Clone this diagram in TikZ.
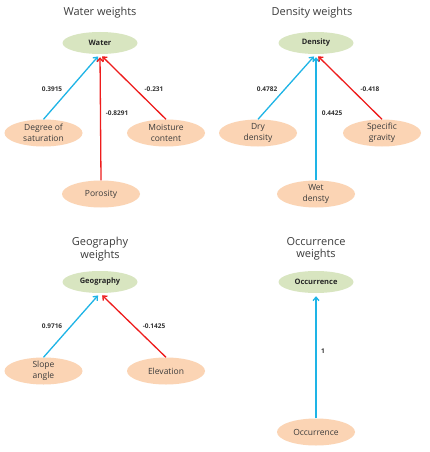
\documentclass[tikz,border=0pt]{standalone}
\usepackage{fontspec}
\setmainfont{Open Sans}
\usetikzlibrary{arrows.meta}
\definecolor{topfill}{HTML}{D8E5C0}
\definecolor{botfill}{HTML}{FBD4B4}
\definecolor{posblue}{HTML}{1EB4E6}
\definecolor{negred}{HTML}{EE1C1C}
\definecolor{txtgray}{HTML}{3C3C3C}
\tikzset{
  titlelbl/.style={font=\fontsize{11}{12.5}\selectfont, text=txtgray, align=center},
  topnode/.style={ellipse, fill=topfill, minimum width=75pt, minimum height=22pt, inner sep=0pt,
    font=\fontsize{7.5}{9}\selectfont\bfseries, text=black!85},
  botnode/.style={ellipse, fill=botfill, minimum width=78pt, minimum height=27pt, inner sep=0pt,
    font=\fontsize{8.5}{10.5}\selectfont, text=txtgray, align=center},
  weightlbl/.style={font=\fontsize{6.5}{8}\selectfont\bfseries, text=black!80, inner sep=0pt},
  posarrow/.style={draw=posblue, line width=1.3pt, -{Straight Barb[length=3.5pt,width=6pt]}, shorten >=3pt},
  negarrow/.style={draw=negred, line width=1.3pt, -{Straight Barb[length=3.5pt,width=6pt]}, shorten >=3pt},
}
\usetikzlibrary{shapes.geometric}
\begin{document}
\begin{tikzpicture}[x=1pt,y=-1pt]
\useasboundingbox[fill=white] (0,0) rectangle (429,452);
% Water
\node[titlelbl] (t1) at (100,13) {Water weights};
\node[topnode] (water) at (100,43) {Water};
\node[botnode] (deg) at (43.5,133) {Degree of\\saturation};
\node[botnode] (moist) at (166,133) {Moisture\\content};
\node[botnode] (poro) at (101,194) {Porosity};
\draw[posarrow] (deg.north) -- (water.south);
\draw[negarrow] (poro.north) -- (water.south);
\draw[negarrow] (moist.north) -- (water.south);
\node[weightlbl] (w1) at (52,89) {0.3915};
\node[weightlbl] (w2) at (117,113) {-0.8291};
\node[weightlbl] (w3) at (154,89) {-0.231};
% Density
\node[titlelbl] (t2) at (312,13) {Density weights};
\node[topnode] (dens) at (316,43) {Density};
\node[botnode] (dry) at (258,133) {Dry\\density};
\node[botnode] (spec) at (382,133) {Specific\\gravity};
\node[botnode] (wet) at (316,194) {Wet\\densty};
\draw[posarrow] (dry.north) -- (dens.south);
\draw[posarrow] (wet.north) -- (dens.south);
\draw[negarrow] (spec.north) -- (dens.south);
\node[weightlbl] (d1) at (267,89) {0.4782};
\node[weightlbl] (d2) at (332,113) {0.4425};
\node[weightlbl] (d3) at (370,89) {-0.418};
% Geography
\node[titlelbl] (t3) at (100,249) {Geography\\weights};
\node[topnode] (geo) at (100,282) {Geography};
\node[botnode] (slope) at (43.5,371) {Slope\\angle};
\node[botnode] (elev) at (166,371) {Elevation};
\draw[posarrow] (slope.north) -- (geo.south);
\draw[negarrow] (elev.north) -- (geo.south);
\node[weightlbl] (g1) at (52,326) {0.9716};
\node[weightlbl] (g2) at (154,326) {-0.1425};
% Occurrence
\node[titlelbl] (t4) at (316,249) {Occurrence\\weights};
\node[topnode] (occ) at (316,282) {Occurrence};
\node[botnode] (occb) at (316,432) {Occurrence};
\draw[posarrow] (occb.north) -- (occ.south);
\node[weightlbl] (o1) at (323,351) {1};
\end{tikzpicture}
\end{document}
